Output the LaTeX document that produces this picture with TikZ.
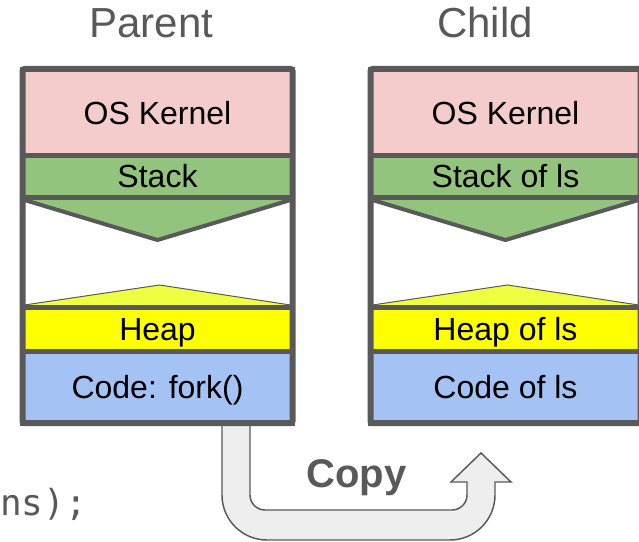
\documentclass[tikz,border=0pt]{standalone}
\usepackage{fontspec}
\setmainfont{Liberation Sans}
\newfontfamily\codefont{DejaVu Sans Mono}

\definecolor{edgegray}{HTML}{595959}
\definecolor{kernelfill}{HTML}{F4CCCC}
\definecolor{stackfill}{HTML}{93C47D}
\definecolor{heapfill}{HTML}{FFFF00}
\definecolor{heapgrow}{HTML}{EEFF41}
\definecolor{codefill}{HTML}{A4C2F4}
\definecolor{arrowfill}{HTML}{EEEEEE}

\tikzset{
  layer/.style={draw=edgegray, line width=3.75pt, minimum width=202.5pt,
    inner sep=0pt, text height=17.3pt, text depth=0pt,
    font=\fontsize{24}{28}\selectfont, text=black},
  heading/.style={anchor=base, text=edgegray, font=\fontsize{31.5}{36}\selectfont},
  % one process address space, centred on the pic origin (x), y measured downwards
  pics/procbox/.style n args={4}{code={
    \node[layer, fill=kernelfill, minimum height=64.5pt] (-kernel) at (0,112.5) {#1};
    \node[layer, fill=stackfill, minimum height=31.875pt] (-stack) at (0,176.25) {#2};
    \node[layer, fill=white, minimum height=82.5pt] (-free) at (0,252.5) {};
    % stack grows down
    \filldraw[fill=stackfill, draw=edgegray, line width=3pt]
      (-133,200) -- (0,240) -- (133,200);
    % heap grows up
    \filldraw[fill=heapgrow, draw=edgegray, line width=0.75pt]
      (-133,305) -- (2,285) -- (133,305);
    \node[layer, fill=heapfill, minimum height=32.625pt] (-heap) at (0,329.25) {#3};
    \node[layer, fill=codefill, minimum height=54pt] (-code) at (0,387) {#4};
    \draw[edgegray, line width=4.5pt, rounded corners=1.5pt]
      (-135,69) rectangle (135,423);
  }}
}

\begin{document}
\begin{tikzpicture}[x=0.75pt, y=-0.75pt]
  \useasboundingbox (0,0) rectangle (639,542);
  \clip (0,0) rectangle (639,542);

  % copy arrow from parent to child
  \filldraw[fill=arrowfill, draw=edgegray, line width=1.1pt, line join=miter]
    (222,423) -- (222,495)
    .. controls (222,519.85) and (242.15,540) .. (267,540)
    -- (450,540)
    .. controls (474.85,540) and (495,519.85) .. (495,495)
    -- (495,482) -- (511,482) -- (481,453) -- (451,482) -- (467,482)
    -- (467,495)
    .. controls (467,503.28) and (460.28,510) .. (452,510)
    -- (265,510)
    .. controls (256.72,510) and (250,503.28) .. (250,495)
    -- (250,423) -- cycle;

  \pic (parent) at (157.5,0) {procbox={OS Kernel}{Stack}{Heap}{Code: fork()}};
  \pic (child) at (505.5,0) {procbox={OS Kernel}{Stack of ls}{Heap of ls}{Code of ls}};

  \node[heading] (parentlbl) at (151.5,38) {Parent};
  \node[heading] (childlbl) at (485,38) {Child};

  \node[anchor=base, text=edgegray, font=\bfseries\fontsize{30}{34}\selectfont]
    (copylbl) at (356.5,487) {Copy};

  \node[anchor=base east, inner sep=0pt, text=edgegray,
        font=\codefont\fontsize{27}{32}\selectfont] (codetail) at (87,515) {ns);};
\end{tikzpicture}
\end{document}
